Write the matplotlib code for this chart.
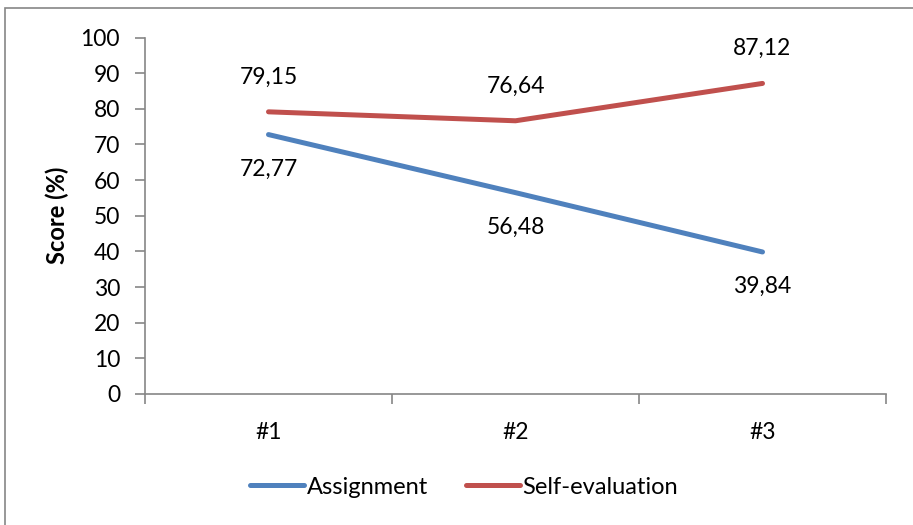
import matplotlib.pyplot as plt
from matplotlib.patches import Rectangle

# data
categories = ['#1', '#2', '#3']
assignment = [72.77, 56.48, 39.84]
self_eval = [79.15, 76.64, 87.12]
yticks = [0, 10, 20, 30, 40, 50, 60, 70, 80, 90, 100]

plt.rcParams['font.family'] = ['Lato', 'DejaVu Sans']

W, H = 913, 525
fig = plt.figure(figsize=(W / 100, H / 100), dpi=100)

# outer chart border (cut at right/bottom like the reference)
fig.patches.append(Rectangle((5 / W, -0.1), 1.2, (H - 8) / H + 0.1, transform=fig.transFigure,
                             fill=False, ec='#868686', lw=1.2))

ax = fig.add_axes([145 / W, (H - 394) / H, (886 - 145) / W, (394 - 37.5) / H])
x = list(range(len(categories)))
blue = '#4F81BD'
red = '#C0504D'
ax.plot(x, assignment, color=blue, lw=3.6, solid_capstyle='round', label='Assignment')
ax.plot(x, self_eval, color=red, lw=3.6, solid_capstyle='round', label='Self-evaluation')

for i in x:
    ax.annotate(f'{assignment[i]:.2f}'.replace('.', ','), (i, assignment[i]), xytext=(0, -25),
                textcoords='offset points', ha='center', va='center', fontsize=16.5)
    ax.annotate(f'{self_eval[i]:.2f}'.replace('.', ','), (i, self_eval[i]), xytext=(0, 25),
                textcoords='offset points', ha='center', va='center', fontsize=16.5)

ax.set_xlim(-0.5, 2.5)
ax.set_ylim(0, 100)
ax.set_yticks(yticks)
ax.set_xticks([-0.5, 0.5, 1.5, 2.5])
ax.set_xticklabels([])
ax.set_xticks(x, minor=True)
ax.set_xticklabels(categories, minor=True)
ax.tick_params(axis='x', which='minor', length=0, pad=20, labelsize=16.5)
ax.tick_params(axis='x', which='major', length=7, direction='out', color='#868686', width=1.2)
ax.tick_params(axis='y', length=7, direction='out', color='#868686', width=1.2, labelsize=16.5, pad=11)
for s in ['top', 'right']:
    ax.spines[s].set_visible(False)
for s in ['left', 'bottom']:
    ax.spines[s].set_color('#868686')
    ax.spines[s].set_linewidth(1.2)
ax.set_ylabel('Score (%)', fontsize=17, fontweight='bold', labelpad=8)

leg = fig.legend(loc='center', bbox_to_anchor=(464 / W, (H - 487) / H), ncol=2, frameon=False,
                 fontsize=17, handlelength=2.3, handletextpad=0.1, columnspacing=1.6)

fig.savefig('out.png', dpi=100)
